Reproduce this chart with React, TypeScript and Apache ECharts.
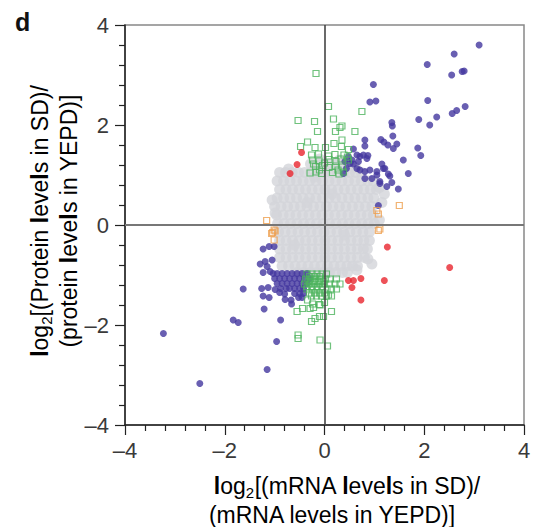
import React, { useEffect, useRef } from "react";
import * as echarts from "echarts";

// Gray (unchanged) genes: rows of [y, x-values]
const grayRows: [number, number[]][] = [
  [1.22, [-0.28, -0.15, -0.02, 0.1, 0.22, 0.35, 0.48]],
  [1.05, [-0.9, -0.78, -0.65, -0.52, -0.4, -0.27, -0.14, -0.01, 0.12, 0.25, 0.38, 0.5, 0.62, 0.74]],
  [0.88, [-0.95, -0.82, -0.69, -0.56, -0.43, -0.3, -0.17, -0.04, 0.09, 0.22, 0.35, 0.48, 0.61, 0.74, 0.87, 0.98]],
  [0.71, [-0.9, -0.77, -0.64, -0.51, -0.38, -0.25, -0.12, 0.01, 0.14, 0.27, 0.4, 0.53, 0.66, 0.79, 0.92, 1.04]],
  [0.54, [-0.95, -0.82, -0.69, -0.56, -0.43, -0.3, -0.17, -0.04, 0.09, 0.22, 0.35, 0.48, 0.61, 0.74, 0.87, 0.99]],
  [0.37, [-1.0, -0.87, -0.74, -0.61, -0.48, -0.35, -0.22, -0.09, 0.04, 0.17, 0.3, 0.43, 0.56, 0.69, 0.82, 0.95]],
  [0.2, [-0.96, -0.83, -0.7, -0.57, -0.44, -0.31, -0.18, -0.05, 0.08, 0.21, 0.34, 0.47, 0.6, 0.73, 0.86, 0.98]],
  [0.03, [-0.94, -0.81, -0.68, -0.55, -0.42, -0.29, -0.16, -0.03, 0.1, 0.23, 0.36, 0.49, 0.62, 0.75, 0.88, 1.0]],
  [-0.14, [-0.92, -0.79, -0.66, -0.53, -0.4, -0.27, -0.14, -0.01, 0.12, 0.25, 0.38, 0.51, 0.64, 0.77, 0.9]],
  [-0.31, [-0.9, -0.77, -0.64, -0.51, -0.38, -0.25, -0.12, 0.01, 0.14, 0.27, 0.4, 0.53, 0.66, 0.79, 0.9]],
  [-0.48, [-0.9, -0.77, -0.64, -0.51, -0.38, -0.25, -0.12, 0.01, 0.14, 0.27, 0.4, 0.53, 0.66, 0.78, 0.86]],
  [-0.65, [-0.9, -0.77, -0.64, -0.51, -0.38, -0.25, -0.12, 0.01, 0.14, 0.27, 0.4, 0.53, 0.66, 0.8]],
  [-0.82, [-0.85, -0.72, -0.59, -0.46, -0.33, -0.2, -0.07, 0.06, 0.19, 0.32, 0.45, 0.56, 0.66]],
  [-0.95, [-0.55, -0.42, -0.29, -0.16, -0.03, 0.1, 0.23, 0.36, 0.46]],
];
const grayExtra: [number, number][] = [
  [1.2, 0.62], [1.15, 0.45], [-1.05, 0.5], [0.87, -0.68], [0.65, -0.9], [1.1, 0.1], [-0.99, 0.24],
  [-0.72, 1.12], [0.62, 1.15], [0.3, 1.3], [-0.1, 1.32], [1.1, 0.75], [0.95, -0.78],
  [-0.2, 0.96], [0.15, 0.62], [-0.6, -0.4], [0.4, -0.2], [-0.35, 0.45],
];

const bluePoints: [number, number][] = [
  [3.1, 3.6], [2.6, 3.42], [2.06, 3.21], [2.55, 3.0], [2.76, 3.07], [2.8, 3.08],
  [0.98, 2.81], [0.91, 2.46], [1.03, 2.48], [2.07, 2.49], [2.82, 2.37], [2.56, 2.23],
  [2.65, 2.29], [2.25, 2.16], [1.89, 2.11], [2.11, 2.0], [1.35, 2.05], [1.36, 1.98],
  [1.37, 1.78], [0.81, 1.7], [0.81, 1.58], [1.13, 1.71], [1.19, 1.66], [1.27, 1.6],
  [1.38, 1.53], [1.45, 1.62], [1.87, 1.54], [1.93, 1.39], [1.58, 1.3], [1.68, 1.03],
  [1.15, 1.22], [1.21, 1.13], [1.05, 1.0], [1.28, 1.02], [1.11, 0.87], [1.25, 0.77],
  [1.35, 0.85], [1.48, 0.72], [1.08, 0.39], [1.18, 1.13], [1.05, 1.07], [1.31, 0.98],
  [1.11, 0.83], [0.58, 1.52], [0.48, 1.37], [0.51, 1.23], [0.58, 1.22], [0.65, 1.4],
  [0.71, 1.37], [0.78, 1.4], [0.85, 1.33], [0.87, 1.39], [0.68, 1.27], [0.55, 1.3],
  [0.41, 1.27], [0.44, 1.13], [0.38, 1.03], [0.65, 1.13], [0.71, 1.1], [0.81, 1.07],
  [0.91, 1.1], [0.95, 0.93], [0.81, 0.93],
  [-3.23, -2.17], [-2.5, -3.17], [-1.23, -0.48], [-1.11, -0.43], [-1.01, -0.43],
  [-1.29, -0.78], [-1.19, -0.73], [-1.15, -0.83], [-1.05, -0.7], [-1.09, -0.93],
  [-1.03, -0.97], [-1.23, -0.95], [-1.63, -1.28], [-1.26, -1.27], [-1.13, -1.25],
  [-0.99, -1.29], [-1.23, -1.42], [-1.11, -1.45], [-0.77, -1.27], [-0.79, -1.49],
  [-0.67, -1.5], [-0.66, -1.58], [-1.21, -1.68], [-1.83, -1.9], [-1.73, -1.95],
  [-0.88, -1.9], [-0.96, -2.33], [-1.15, -2.89],
  [-0.95, -0.97], [-0.85, -0.97], [-0.75, -0.97], [-0.65, -0.97], [-0.55, -0.97], [-0.45, -0.97], [-0.35, -0.97],
  [-1.0, -1.07], [-0.9, -1.07], [-0.8, -1.07], [-0.7, -1.07], [-0.6, -1.07], [-0.5, -1.07], [-0.4, -1.07], [-0.3, -1.07],
  [-0.95, -1.17], [-0.85, -1.17], [-0.75, -1.17], [-0.65, -1.17], [-0.55, -1.17], [-0.45, -1.17], [-0.35, -1.17],
  [-0.88, -1.27], [-0.7, -1.27], [-0.6, -1.27], [-0.5, -1.27], [-0.42, -1.27],
  [-0.6, -1.37], [-0.5, -1.37], [-0.42, -1.37], [-0.52, -1.45], [-0.45, -1.45],
  [-0.9, -1.35], [-0.8, -1.38],
];

const redPoints: [number, number][] = [
  [-0.46, 1.45], [-0.55, 1.21], [-0.69, 1.03], [1.26, -0.44], [0.48, -1.11], [0.58, -1.11],
  [0.73, -1.07], [0.55, -1.25], [1.2, -1.11], [0.73, -1.5], [2.51, -0.85],
];

const greenPoints: [number, number][] = [
  [-0.17, 3.03], [0.08, 2.37], [0.75, 2.27], [-0.53, 2.09], [-0.2, 2.07], [0.18, 2.12],
  [0.35, 1.98], [0.31, 1.95], [-0.14, 1.87], [0.22, 1.87], [0.61, 1.87], [-0.34, 1.66],
  [-0.48, 1.57], [-0.19, 1.55], [0.02, 1.55], [0.19, 1.63], [0.35, 1.7], [0.34, 1.57], [0.48, 1.51],
  [-0.26, 1.4], [-0.12, 1.42], [0.08, 1.38], [0.21, 1.41], [0.39, 1.4], [0.46, 1.36],
  [-0.24, 1.3], [-0.11, 1.28], [0.09, 1.31], [0.23, 1.27], [0.33, 1.32], [0.48, 1.3],
  [-0.18, 1.17], [-0.04, 1.19], [0.09, 1.15], [0.22, 1.18], [0.36, 1.16],
  [-0.29, 1.04], [-0.17, 1.06], [-0.06, 1.03], [0.16, 1.05], [0.29, 1.02], [0.38, 1.06],
  [-0.1, 1.1], [0.0, 1.24], [0.27, 1.1], [-0.22, 1.22],
  [-0.35, -0.98], [-0.25, -0.98], [-0.15, -0.98], [-0.05, -0.98], [0.04, -0.98],
  [-0.3, -1.03], [-0.2, -1.03], [-0.1, -1.03],
  [-0.38, -1.08], [-0.28, -1.08], [-0.18, -1.08], [-0.08, -1.08], [0.02, -1.08], [0.11, -1.08], [0.24, -1.08],
  [-0.33, -1.13], [-0.23, -1.13], [-0.13, -1.13], [-0.03, -1.13],
  [-0.4, -1.18], [-0.3, -1.18], [-0.2, -1.18], [-0.1, -1.18], [0.0, -1.18], [0.1, -1.18], [0.21, -1.18], [0.31, -1.18],
  [-0.35, -1.23], [-0.25, -1.23], [-0.15, -1.23], [-0.05, -1.23],
  [-0.35, -1.28], [-0.25, -1.28], [-0.15, -1.28], [-0.05, -1.28], [0.05, -1.28], [0.14, -1.28], [0.24, -1.28],
  [-0.3, -1.36], [-0.2, -1.36], [-0.1, -1.36], [0.0, -1.36],
  [0.08, -1.4], [-0.26, -1.42], [-0.16, -1.42], [-0.06, -1.42], [0.04, -1.42], [0.14, -1.42],
  [-0.34, -1.5], [-0.24, -1.58], [-0.1, -1.59], [0.0, -1.55],
  [-0.55, -1.73], [-0.44, -1.67], [-0.29, -1.67], [0.14, -1.73], [-0.09, -1.6], [-0.22, -1.65],
  [-0.26, -1.93], [-0.19, -1.87], [-0.1, -1.83], [-0.02, -1.83],
  [-0.53, -2.2], [-0.53, -2.27], [-0.09, -2.3], [0.06, -2.42],
];

const orangePoints: [number, number][] = [
  [-1.16, 0.09], [-1.06, -0.17], [-1.01, -0.1], [-1.04, -0.15], [-0.99, -0.12], [-1.01, -0.3],
  [1.05, 0.29], [1.08, 0.22], [1.5, 0.39], [1.08, -0.11], [1.11, -0.08],
];

const axisMin = -4;
const axisMax = 4;
const axisStep = 2;

const FONT = "'Liberation Sans', Arial, Helvetica, sans-serif";
const dash = (v: number) => (v < 0 ? "\u2013" + Math.abs(v) : String(v));

export default function App() {
  const ref = useRef<HTMLDivElement>(null);
  useEffect(() => {
    if (!ref.current) return;
    const chart = echarts.init(ref.current, null, { renderer: "svg" });
    const grayData: [number, number][] = [
      ...grayRows.flatMap(([y, xs]) => xs.map((x) => [x, y] as [number, number])),
      ...grayExtra,
    ];
    const axisCommon = {
      type: "value" as const,
      min: axisMin,
      max: axisMax,
      interval: axisStep,
      axisLine: { show: true, onZero: false, lineStyle: { color: "#222", width: 1.5 } },
      axisTick: { show: true, inside: false, length: 10, lineStyle: { color: "#222", width: 1.2 } },
      minorTick: { show: true, splitNumber: 5, length: 6, lineStyle: { color: "#222", width: 1.2 } },
      splitLine: { show: false },
      axisLabel: { fontFamily: FONT, fontSize: 22, color: "#3a3a3a", formatter: dash },
    };
    const TS = 23;
    const rich1 = {
      n: { fontFamily: FONT, fontSize: TS, color: "#333", lineHeight: 28 },
      b: { fontFamily: FONT, fontSize: TS, color: "#333", fontWeight: "bold", lineHeight: 28 },
      s: { fontFamily: FONT, fontSize: 15, color: "#333", verticalAlign: "bottom", lineHeight: 15 },
    };
    const rich2 = {
      n: { fontFamily: FONT, fontSize: TS, color: "#333", lineHeight: 24 },
      b: { fontFamily: FONT, fontSize: TS, color: "#333", fontWeight: "bold", lineHeight: 24 },
    };
    chart.setOption({
      animation: false,
      backgroundColor: "#fff",
      grid: {
        left: 125,
        top: 25,
        right: 10,
        bottom: 102,
        show: true,
        borderColor: "#888",
        borderWidth: 1.5,
      },
      xAxis: { ...axisCommon, axisLabel: { ...axisCommon.axisLabel, margin: 14 } },
      yAxis: { ...axisCommon, axisLabel: { ...axisCommon.axisLabel, margin: 16 } },
      series: [
        {
          type: "scatter",
          data: grayData,
          symbol: "circle",
          symbolSize: 11,
          itemStyle: { color: "#d3d4d9" },
          z: 1,
        },
        {
          type: "scatter",
          data: bluePoints,
          symbol: "circle",
          symbolSize: 7,
          itemStyle: { color: "#43379f" },
          z: 2,
        },
        {
          type: "scatter",
          data: greenPoints,
          symbol: "rect",
          symbolSize: 6,
          itemStyle: { color: "rgba(255,255,255,0)", borderColor: "#4cb35c", borderWidth: 1.2 },
          z: 3,
        },
        {
          type: "scatter",
          data: orangePoints,
          symbol: "rect",
          symbolSize: 6,
          itemStyle: { color: "rgba(255,255,255,0)", borderColor: "#ee9f4e", borderWidth: 1.2 },
          z: 3,
        },
        {
          type: "scatter",
          data: redPoints,
          symbol: "circle",
          symbolSize: 7,
          itemStyle: { color: "#e8262e" },
          z: 4,
          markLine: {
            silent: true,
            symbol: "none",
            label: { show: false },
            z: 10,
            data: [
              { xAxis: 0, lineStyle: { color: "#444", width: 1.6, type: "solid" } },
              { yAxis: 0, lineStyle: { color: "#777", width: 2, type: "solid" } },
            ],
          },
        },
      ],
      graphic: [
        {
          type: "text",
          left: 15,
          top: 9,
          style: { text: "d", font: `bold 25px ${FONT}`, fill: "#111" },
        },
        {
          type: "text",
          x: 347,
          y: 486,
          style: {
            text: "{b|l}{n|og}{s|2}{n|[(mRNA }{b|l}{n|eve}{b|l}{n|s in SD)/}",
            rich: rich1,
            align: "center",
            verticalAlign: "middle",
          },
        },
        {
          type: "text",
          x: 332,
          y: 515,
          style: {
            text: "{n|(mRNA levels in YEPD)]}",
            rich: rich2,
            align: "center",
            verticalAlign: "middle",
          },
        },
        {
          type: "text",
          x: 40,
          y: 221,
          rotation: Math.PI / 2,
          style: {
            text: "{b|l}{n|og}{s|2}{n|[(Protein }{b|l}{n|eve}{b|l}{n|s in SD)/}",
            rich: rich1,
            align: "center",
            verticalAlign: "middle",
          },
        },
        {
          type: "text",
          x: 69,
          y: 221,
          rotation: Math.PI / 2,
          style: {
            text: "{n|(protein }{b|l}{n|eve}{b|l}{n|s in YEPD)]}",
            rich: rich2,
            align: "center",
            verticalAlign: "middle",
          },
        },
      ],
    });
    return () => chart.dispose();
  }, []);
  return (
    <div
      ref={ref}
      style={{ position: "fixed", left: 0, top: 0, width: 534, height: 527, background: "#fff" }}
    />
  );
}
